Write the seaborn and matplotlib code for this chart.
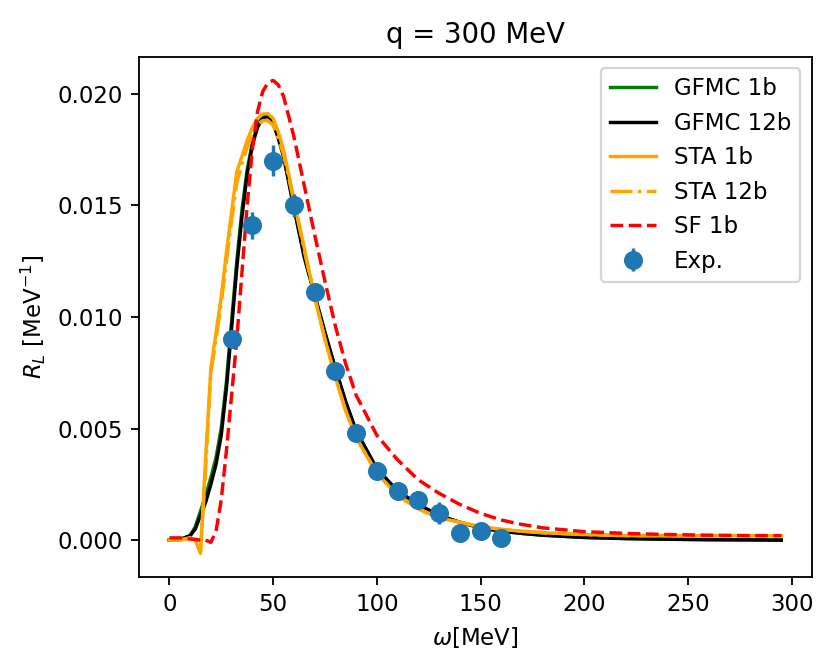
import numpy as np
import pandas as pd
import matplotlib
matplotlib.use('Agg')
import matplotlib.pyplot as plt
import seaborn as sns

# energy transfer grid (MeV)
omega = [0, 5, 10, 12.5, 15, 17.5, 20, 22.5, 25, 27.5, 30, 32.5, 35, 37.5, 40,
         42.5, 45, 47.5, 50, 52.5, 55, 60, 65, 70, 75, 80, 85, 90, 100, 110, 120,
         130, 140, 150, 160, 170, 180, 200, 220, 240, 260, 280, 295]

gfmc_1b = [0, 0.00002, 0.0002, 0.0006, 0.0013, 0.0020, 0.0028, 0.0037, 0.0050,
           0.0071, 0.0098, 0.0125, 0.0148, 0.0166, 0.0178, 0.0186, 0.0190, 0.0191,
           0.0188, 0.0181, 0.0173, 0.0150, 0.0127, 0.0110, 0.0093, 0.0077, 0.0062,
           0.0049, 0.0032, 0.0022, 0.0016, 0.0011, 0.0008, 0.00055, 0.0004, 0.0003,
           0.00022, 0.00012, 0.00007, 0.00004, 0.00002, 0.00001, 0.0]

gfmc_12b = [0, 0.00002, 0.0002, 0.0005, 0.0011, 0.0017, 0.0025, 0.0034, 0.0047,
            0.0068, 0.0095, 0.0122, 0.0145, 0.0164, 0.0177, 0.0185, 0.0189, 0.0190,
            0.0187, 0.0180, 0.0172, 0.0149, 0.0127, 0.0110, 0.0093, 0.0077, 0.0062,
            0.0049, 0.0032, 0.0022, 0.0016, 0.0011, 0.0008, 0.00055, 0.0004, 0.0003,
            0.00022, 0.00012, 0.00007, 0.00004, 0.00002, 0.00001, 0.0]

sta_1b = [0, 0.0, 0.0001, 0.0, -0.0006, 0.0037, 0.0077, 0.0093, 0.0109, 0.0129,
          0.0147, 0.0165, 0.0172, 0.0179, 0.0185, 0.0189, 0.0191, 0.0191, 0.0189,
          0.0183, 0.0175, 0.0153, 0.0131, 0.0109, 0.0090, 0.0073, 0.0058, 0.0046,
          0.0030, 0.0020, 0.0014, 0.0010, 0.0008, 0.0006, 0.00048, 0.0004, 0.00033,
          0.00025, 0.0002, 0.0002, 0.0002, 0.0002, 0.0002]

sta_12b = [0, 0.0, 0.0001, 0.0, -0.0005, 0.0032, 0.0075, 0.0090, 0.0106, 0.0125,
           0.0143, 0.0160, 0.0169, 0.0176, 0.0182, 0.0186, 0.0188, 0.0188, 0.0186,
           0.0180, 0.0173, 0.0152, 0.0130, 0.0109, 0.0090, 0.0073, 0.0058, 0.0046,
           0.0030, 0.0020, 0.0014, 0.0010, 0.0008, 0.0006, 0.00048, 0.0004, 0.00033,
           0.00025, 0.0002, 0.0002, 0.0002, 0.0002, 0.0002]

sf_1b = [0.0001, 0.0001, 0.00005, 0.00003, 0.0, 0.0, -0.0001, 0.0004, 0.0018, 0.0040,
         0.0065, 0.0090, 0.0120, 0.0150, 0.0175, 0.0192, 0.0201, 0.0205, 0.0206,
         0.0204, 0.0199, 0.0181, 0.0159, 0.0137, 0.0116, 0.0096, 0.0079, 0.0065,
         0.0047, 0.0036, 0.0027, 0.0021, 0.0016, 0.0012, 0.0009, 0.0007, 0.00055,
         0.00038, 0.0003, 0.00025, 0.00022, 0.0002, 0.0002]

# experimental points
exp_omega = [30, 40, 50, 60, 70, 80, 90, 100, 110, 120, 130, 140, 150, 160]
exp_rl = [0.0090, 0.0141, 0.0170, 0.0150, 0.0111, 0.0076, 0.0048, 0.0031,
          0.0022, 0.0018, 0.0012, 0.0003, 0.0004, 0.0001]
exp_err = [0.0003, 0.0006, 0.0007, 0.0005, 0.0003, 0.0002, 0.0002, 0.0002,
           0.0002, 0.0002, 0.0005, 0.0001, 0.0001, 0.0001]

df = pd.DataFrame({'omega': omega, 'GFMC 1b': gfmc_1b, 'GFMC 12b': gfmc_12b,
                   'STA 1b': sta_1b, 'STA 12b': sta_12b, 'SF 1b': sf_1b})

DPI = 165
fig, ax = plt.subplots(figsize=(831 / DPI, 668 / DPI), dpi=DPI)
fig.subplots_adjust(left=0.167, right=0.977, top=0.915, bottom=0.136)

styles = [('GFMC 1b', 'green', '-'),
          ('GFMC 12b', 'black', '-'),
          ('STA 1b', 'orange', '-'),
          ('STA 12b', 'orange', '-.'),
          ('SF 1b', 'red', '--')]
for name, col, ls in styles:
    sns.lineplot(data=df, x='omega', y=name, color=col, linestyle=ls,
                 label=name, ax=ax, sort=False)

ax.errorbar(exp_omega, exp_rl, yerr=exp_err, fmt='o', color='#1f77b4',
            markersize=7.3, label='Exp.')

ax.set_title('q = 300 MeV')
ax.set_xlabel(r'$\omega$[MeV]')
ax.set_ylabel(r'$R_L$ [MeV$^{-1}$]')
ax.set_xticks([0, 50, 100, 150, 200, 250, 300])
ax.set_yticks([0.0, 0.005, 0.010, 0.015, 0.020])
ax.legend(loc='upper right')

fig.savefig('out.png', dpi=DPI)
